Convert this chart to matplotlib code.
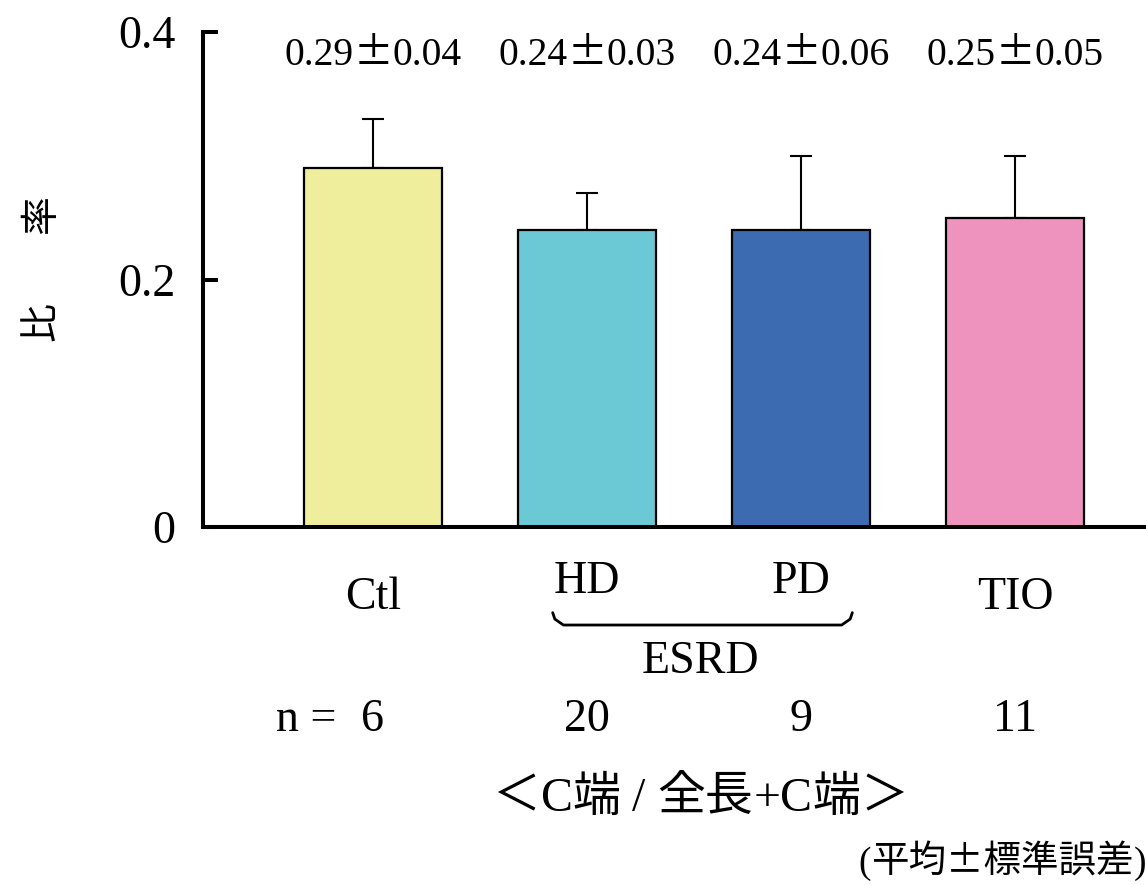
import matplotlib
matplotlib.use('Agg')
import matplotlib.pyplot as plt
from matplotlib.offsetbox import TextArea, HPacker, AnnotationBbox

# data: ratio of C-terminal to (full length + C-terminal), mean +/- SE
groups = ['Ctl', 'HD', 'PD', 'TIO']
means = [0.29, 0.24, 0.24, 0.25]
errs = [0.04, 0.03, 0.06, 0.05]
n_counts = ['6', '20', '9', '11']
colors = ['#EFEE9C', '#6BC9D5', '#3D6BB2', '#EE93BE']
yticks = [0, 0.2, 0.4]
yticklabels = ['0', '0.2', '0.4']

SERIF = 'Liberation Serif'
CJK = 'Noto Sans CJK JP'
plt.rcParams['font.family'] = [SERIF, CJK]


def mixed_text(ax, parts, xy, xycoords, size, align=(0.5, 0.5)):
    """Draw a line of text made of runs in different fonts."""
    boxes = [TextArea(s, textprops=dict(family=f, fontsize=size)) for s, f in parts]
    pack = HPacker(children=boxes, align='baseline', pad=0, sep=0)
    ab = AnnotationBbox(pack, xy, xycoords=xycoords, frameon=False,
                        box_alignment=align, pad=0, annotation_clip=False)
    ax.add_artist(ab)
    return ab


fig = plt.figure(figsize=(11.46, 8.85), dpi=100)
ax = fig.add_axes([0.1771, 0.4045, 0.8229, 0.5593])

x = list(range(len(groups)))
ax.bar(x, means, width=0.645, color=colors, edgecolor='black', linewidth=1.6, zorder=2)
ax.errorbar(x, means, yerr=[[0] * len(errs), errs], fmt='none', ecolor='black',
            elinewidth=1.5, capsize=8, capthick=1.5, zorder=1)

ax.set_xlim(-0.794, 3.612)
ax.set_ylim(0, 0.4)
ax.set_yticks(yticks)
ax.set_yticklabels(yticklabels, fontsize=33, family=SERIF)
ax.set_xticks([])
ax.tick_params(axis='y', direction='in', length=11, width=2.9, pad=20)
for s in ['top', 'right']:
    ax.spines[s].set_visible(False)
ax.spines['left'].set_linewidth(2.9)
ax.spines['bottom'].set_linewidth(2.9)

tr = ax.get_xaxis_transform()

# mean +/- SE labels above the bars
for xi, m, e in zip(x, means, errs):
    mixed_text(ax, [(f'{m:.2f}', SERIF), ('±', CJK), (f'{e:.2f}', SERIF)],
               (xi, 0.955), tr, 28.5)

label_y = [-0.143, -0.111, -0.111, -0.143]
for xi, g, ly in zip(x, groups, label_y):
    ax.text(xi, ly, g, transform=tr, ha='center', va='center', fontsize=33,
            family=SERIF)

# brace grouping HD and PD under ESRD
bx0, bx1 = 0.84, 2.24
by0, by1 = -0.173, -0.198
ax.plot([bx0, bx0 + 0.01, bx0 + 0.05, bx1 - 0.05, bx1 - 0.01, bx1],
        [by0, by1 + 0.012, by1, by1, by1 + 0.012, by0],
        transform=tr, color='black', lw=2, clip_on=False, solid_capstyle='round')
ax.text(1.53, -0.273, 'ESRD', transform=tr, ha='center', va='center', fontsize=33,
        family=SERIF)

# sample sizes
for xi, n in zip(x, n_counts):
    ax.text(xi, -0.39, n, transform=tr, ha='center', va='center', fontsize=33,
            family=SERIF)
ax.text(-0.17, -0.39, 'n =', transform=tr, ha='right', va='center', fontsize=33,
        family=SERIF)

mixed_text(ax, [('＜', CJK), ('C', SERIF), ('端', CJK), (' / ', SERIF),
                ('全長', CJK), ('+C', SERIF), ('端', CJK), ('＞', CJK)],
           (1.53, -0.545), tr, 34.5)

# y label, characters spaced apart
fig.text(0.036, (885 - 322) / 885, '比', rotation=90, ha='center', va='center',
         fontsize=28, family=CJK)
fig.text(0.036, (885 - 215) / 885, '率', rotation=90, ha='center', va='center',
         fontsize=28, family=CJK)

mixed_text(ax, [('(', SERIF), ('平均±標準誤差', CJK), (')', SERIF)],
           (1.0, (885 - 862) / 885), fig.transFigure, 27, align=(1.0, 0.5))

fig.savefig('out.png', dpi=100)
